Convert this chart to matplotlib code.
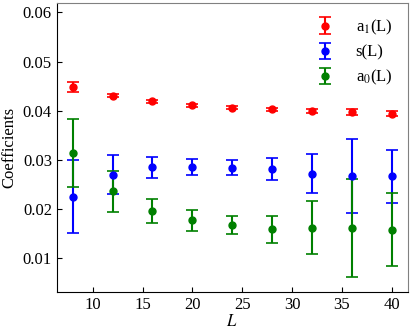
import matplotlib
matplotlib.use("Agg")
import matplotlib.pyplot as plt

L = [8, 12, 16, 20, 24, 28, 32, 36, 40]

a1 = [0.0449, 0.0430, 0.0419, 0.0411, 0.0406, 0.0403, 0.0399, 0.0397, 0.0394]
a1_err = [0.0010, 0.0003, 0.0003, 0.0003, 0.0003, 0.0003, 0.0004, 0.0006, 0.0005]

s = [0.0225, 0.0270, 0.0285, 0.0286, 0.0284, 0.0281, 0.0272, 0.0268, 0.0267]
s_err = [0.0074, 0.0039, 0.0021, 0.0016, 0.0015, 0.0022, 0.0040, 0.0075, 0.0054]

a0 = [0.0314, 0.0236, 0.0196, 0.0177, 0.0167, 0.0159, 0.0162, 0.0162, 0.0158]
a0_err = [0.0069, 0.0042, 0.0025, 0.0021, 0.0018, 0.0027, 0.0054, 0.0100, 0.0074]

plt.rcParams['font.family'] = ['Liberation Serif', 'DejaVu Serif']
plt.rcParams['mathtext.fontset'] = 'stix'
plt.rcParams['font.size'] = 12

fig, ax = plt.subplots(figsize=(4.15, 3.3), dpi=100)
style = dict(fmt='o', markersize=5, capsize=4, elinewidth=1.5, capthick=1.2)
ax.errorbar(L, a1, yerr=a1_err, color='red', label=r'a$_1$(L)', **style)
ax.errorbar(L, s, yerr=s_err, color='blue', label='s(L)', **style)
ax.errorbar(L, a0, yerr=a0_err, color='green', label=r'a$_0$(L)', **style)

ax.set_ylim(0.0032, 0.0619)
ax.set_xlim(6.4, 41.6)
ax.set_xticks([10, 15, 20, 25, 30, 35, 40])
ax.set_yticks([0.01, 0.02, 0.03, 0.04, 0.05, 0.06])
ax.tick_params(direction='in', labelsize=12)
for side in ['top', 'right']:
    ax.spines[side].set_color('0.5')
ax.set_xlabel(r'$L$', labelpad=1)
ax.set_ylabel('Coefficients', labelpad=4)
ax.legend(loc='upper right', frameon=False, handlelength=1.6,
          handletextpad=1.05, labelspacing=0.45, fontsize=12)

fig.subplots_adjust(left=0.137, right=0.982, top=0.991, bottom=0.116)
fig.savefig('out.png')
